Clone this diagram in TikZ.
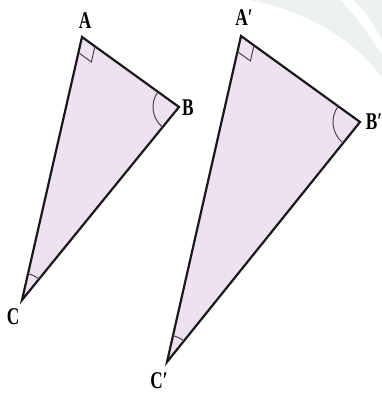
\documentclass[tikz,border=0pt]{standalone}
\usepackage{fontspec}
\setmainfont{Liberation Serif}
\usepackage{graphicx}
\usetikzlibrary{angles}
\definecolor{trifill}{RGB}{238,225,241}
\definecolor{wmark}{RGB}{236,240,241}
\definecolor{edge}{RGB}{25,25,25}
\tikzset{
  tri/.style={draw=edge, line width=2.2pt, fill=trifill, line join=miter},
  lab/.style={inner sep=0pt, font=\fontsize{24}{24}\selectfont\bfseries},
  angmark/.style={draw=edge!80, line width=1pt},
}
\newcommand{\cond}[1]{\scalebox{0.72}[1]{#1}}
\begin{document}
\begin{tikzpicture}[x=1pt,y=-1pt]
\useasboundingbox (0,0) rectangle (382,394);
% faint watermark swooshes
\fill[wmark] (250,0) -- (340,0) .. controls (360,20) and (372,40) .. (382,55) -- (382,78) .. controls (360,45) and (312,12) .. cycle;
\fill[wmark] (354,0) -- (382,0) -- (382,40) .. controls (374,24) and (364,10) .. cycle;
% triangle 1
\coordinate (A) at (82,37);
\coordinate (B) at (179,107);
\coordinate (C) at (22,300);
\draw[tri] (A) -- (B) -- (C) -- cycle;
\pic[angmark, angle radius=16pt] {right angle = C--A--B};
\pic[angmark, angle radius=26pt] {angle = A--B--C};
\pic[angmark, angle radius=27pt] {angle = B--C--A};
\node[lab] (lA) at (85,21) {\cond{A}};
\node[lab] (lB) at (188,108) {\cond{B}};
\node[lab] (lC) at (13,317) {\cond{C}};
% triangle 2
\coordinate (A2) at (241,36);
\coordinate (B2) at (360,122);
\coordinate (C2) at (167,362);
\draw[tri] (A2) -- (B2) -- (C2) -- cycle;
\pic[angmark, angle radius=16pt] {right angle = C2--A2--B2};
\pic[angmark, angle radius=27pt] {angle = A2--B2--C2};
\pic[angmark, angle radius=27pt] {angle = B2--C2--A2};
\node[lab] (lA2) at (244,18) {\cond{A′}};
\node[lab] (lB2) at (374,122) {\cond{B′}};
\node[lab] (lC2) at (159,381) {\cond{C′}};
\end{tikzpicture}
\end{document}
